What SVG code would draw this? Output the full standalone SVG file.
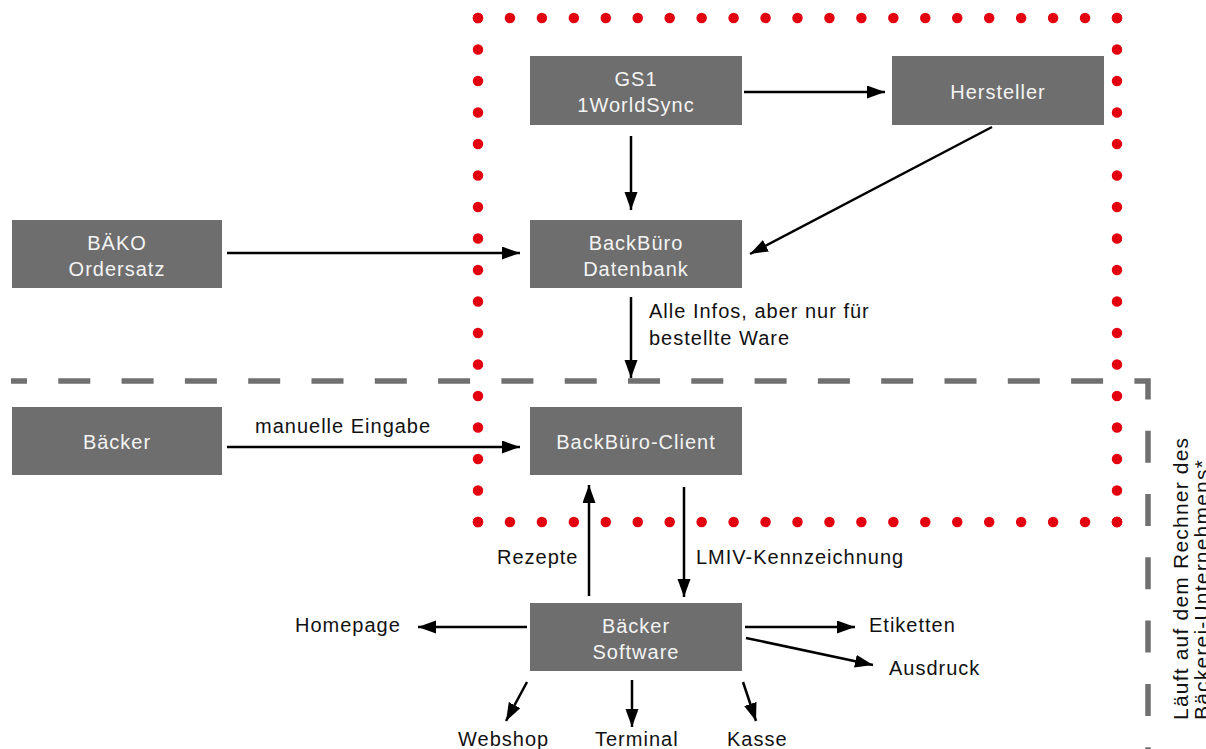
<svg xmlns="http://www.w3.org/2000/svg" width="1206" height="749" viewBox="0 0 1206 749">
<defs>
<style>
.box{fill:#6e6e6e}
.bt{font-family:"Liberation Sans",Arial,sans-serif;font-size:20px;letter-spacing:1px;fill:#f4f4f4;text-anchor:middle}
.lt{font-family:"Liberation Sans",Arial,sans-serif;font-size:20px;letter-spacing:1px;fill:#111}
.ar{stroke:#000;stroke-width:2.5;fill:none;marker-end:url(#ah)}
.dots{stroke:#e3000f;stroke-width:10.5;stroke-linecap:round;fill:none}
</style>
<marker id="ah" markerUnits="userSpaceOnUse" markerWidth="20" markerHeight="14" refX="18" refY="6.5" orient="auto">
<path d="M0,0 L18,6.5 L0,13 z" fill="#000"/>
</marker>
</defs>
<rect width="1206" height="749" fill="#fff"/>

<g id="boundaries">
<path d="M11,381 H1148 V760" fill="none" stroke="#707070" stroke-width="5.5" stroke-dasharray="32 31.3" stroke-dashoffset="16"/>
<line class="dots" x1="478" y1="18" x2="1118" y2="18" stroke-dasharray="0 31.95"/>
<line class="dots" x1="1117" y1="18" x2="1117" y2="523" stroke-dasharray="0 31.5"/>
<line class="dots" x1="478" y1="522" x2="1118" y2="522" stroke-dasharray="0 31.95"/>
<line class="dots" x1="478" y1="18" x2="478" y2="523" stroke-dasharray="0 31.5"/>
<circle cx="1117" cy="522" r="5.25" fill="#e3000f"/>
<text class="lt" style="font-size:21px;letter-spacing:1.2px" transform="translate(1188,720) rotate(-90)"><tspan x="0" y="0">Läuft auf dem Rechner des</tspan><tspan x="0" y="21">Bäckerei-Unternehmens*</tspan></text>
</g>

<g id="connectors">
<line class="ar" x1="744" y1="92" x2="885" y2="92"/>
<line class="ar" x1="631" y1="136" x2="631" y2="210"/>
<line class="ar" x1="992" y1="127" x2="750" y2="254"/>
<line class="ar" x1="227" y1="253" x2="520" y2="253"/>
<line class="ar" x1="631" y1="297" x2="631" y2="378"/>
<text class="lt" x="649" y="318">Alle Infos, aber nur für</text>
<text class="lt" x="649" y="345">bestellte Ware</text>
<line class="ar" x1="227" y1="447" x2="520" y2="447"/>
<text class="lt" x="255" y="433">manuelle Eingabe</text>
<line class="ar" x1="589" y1="596" x2="589" y2="485"/>
<text class="lt" x="497" y="564">Rezepte</text>
<line class="ar" x1="684" y1="487" x2="684" y2="597"/>
<text class="lt" x="696" y="564">LMIV-Kennzeichnung</text>
<line class="ar" x1="527" y1="627" x2="418" y2="627"/>
<text class="lt" x="295" y="632">Homepage</text>
<line class="ar" x1="745" y1="627" x2="855" y2="627"/>
<text class="lt" x="869" y="632">Etiketten</text>
<line class="ar" x1="746" y1="638" x2="873" y2="665"/>
<text class="lt" x="889" y="675">Ausdruck</text>
<line class="ar" x1="527" y1="682" x2="506" y2="721"/>
<text class="lt" x="458" y="746">Webshop</text>
<line class="ar" x1="632" y1="680" x2="632" y2="727"/>
<text class="lt" x="595" y="746">Terminal</text>
<line class="ar" x1="743" y1="682" x2="756" y2="721"/>
<text class="lt" x="727" y="746">Kasse</text>
</g>

<g id="node-gs1">
<rect class="box" x="530" y="56" width="212" height="69"/>
<text class="bt" x="636" y="86">GS1</text>
<text class="bt" x="636" y="112">1WorldSync</text>
</g>
<g id="node-hersteller">
<rect class="box" x="892" y="56" width="212" height="69"/>
<text class="bt" x="998" y="99">Hersteller</text>
</g>
<g id="node-baeko">
<rect class="box" x="12" y="220" width="210" height="68"/>
<text class="bt" x="117" y="250">BÄKO</text>
<text class="bt" x="117" y="276">Ordersatz</text>
</g>
<g id="node-datenbank">
<rect class="box" x="530" y="220" width="212" height="68"/>
<text class="bt" x="636" y="250">BackBüro</text>
<text class="bt" x="636" y="276">Datenbank</text>
</g>
<g id="node-baecker">
<rect class="box" x="12" y="407" width="210" height="68"/>
<text class="bt" x="117" y="449">Bäcker</text>
</g>
<g id="node-client">
<rect class="box" x="530" y="407" width="212" height="68"/>
<text class="bt" x="636" y="449">BackBüro-Client</text>
</g>
<g id="node-software">
<rect class="box" x="530" y="603" width="212" height="68"/>
<text class="bt" x="636" y="633">Bäcker</text>
<text class="bt" x="636" y="659">Software</text>
</g>
</svg>
